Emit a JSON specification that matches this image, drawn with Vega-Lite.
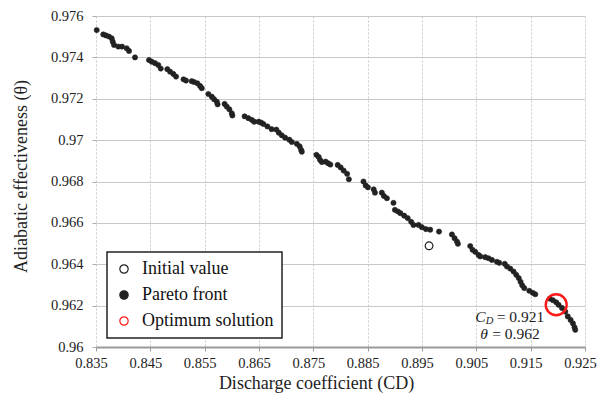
{
  "$schema": "https://vega.github.io/schema/vega-lite/v6.json",
  "width": 489,
  "height": 331,
  "autosize": {"type": "none"},
  "padding": {"left": 96, "top": 16, "right": 29, "bottom": 64},
  "background": "white",
  "config": {
    "view": {"stroke": null},
    "font": "Liberation Serif",
    "axis": {"labelFont": "Liberation Serif", "titleFont": "Liberation Serif"},
    "text": {"font": "Liberation Serif"},
    "legend": {
      "orient": "none",
      "legendX": 11,
      "legendY": 236,
      "strokeColor": "#222",
      "strokeWidth": 1.5,
      "fillColor": "white",
      "padding": 8,
      "labelFont": "Liberation Serif",
      "labelFontSize": 18,
      "labelColor": "#111",
      "labelOffset": 9,
      "rowPadding": 8,
      "symbolSize": 70,
      "symbolStrokeWidth": 1.2
    }
  },
  "datasets": {
    "pts": [
      {"cd": 0.83513, "th": 0.97532, "s": "Pareto front"},
      {"cd": 0.83634, "th": 0.97511, "s": "Pareto front"},
      {"cd": 0.83684, "th": 0.97506, "s": "Pareto front"},
      {"cd": 0.83739, "th": 0.97501, "s": "Pareto front"},
      {"cd": 0.83789, "th": 0.97492, "s": "Pareto front"},
      {"cd": 0.83808, "th": 0.97476, "s": "Pareto front"},
      {"cd": 0.83832, "th": 0.9746, "s": "Pareto front"},
      {"cd": 0.83911, "th": 0.97452, "s": "Pareto front"},
      {"cd": 0.83979, "th": 0.97452, "s": "Pareto front"},
      {"cd": 0.84065, "th": 0.97444, "s": "Pareto front"},
      {"cd": 0.84108, "th": 0.97431, "s": "Pareto front"},
      {"cd": 0.84218, "th": 0.974, "s": "Pareto front"},
      {"cd": 0.84476, "th": 0.97387, "s": "Pareto front"},
      {"cd": 0.84526, "th": 0.97379, "s": "Pareto front"},
      {"cd": 0.84587, "th": 0.97372, "s": "Pareto front"},
      {"cd": 0.84647, "th": 0.97363, "s": "Pareto front"},
      {"cd": 0.84692, "th": 0.97346, "s": "Pareto front"},
      {"cd": 0.84813, "th": 0.97343, "s": "Pareto front"},
      {"cd": 0.84863, "th": 0.97331, "s": "Pareto front"},
      {"cd": 0.84924, "th": 0.9732, "s": "Pareto front"},
      {"cd": 0.84973, "th": 0.97307, "s": "Pareto front"},
      {"cd": 0.85111, "th": 0.97294, "s": "Pareto front"},
      {"cd": 0.85157, "th": 0.97288, "s": "Pareto front"},
      {"cd": 0.85262, "th": 0.97285, "s": "Pareto front"},
      {"cd": 0.85305, "th": 0.97281, "s": "Pareto front"},
      {"cd": 0.85366, "th": 0.97275, "s": "Pareto front"},
      {"cd": 0.85415, "th": 0.97262, "s": "Pareto front"},
      {"cd": 0.85447, "th": 0.97251, "s": "Pareto front"},
      {"cd": 0.85568, "th": 0.97223, "s": "Pareto front"},
      {"cd": 0.85631, "th": 0.9721, "s": "Pareto front"},
      {"cd": 0.85673, "th": 0.97198, "s": "Pareto front"},
      {"cd": 0.85723, "th": 0.97186, "s": "Pareto front"},
      {"cd": 0.85738, "th": 0.97173, "s": "Pareto front"},
      {"cd": 0.85867, "th": 0.97175, "s": "Pareto front"},
      {"cd": 0.85907, "th": 0.97162, "s": "Pareto front"},
      {"cd": 0.85955, "th": 0.97149, "s": "Pareto front"},
      {"cd": 0.85999, "th": 0.9713, "s": "Pareto front"},
      {"cd": 0.8601, "th": 0.97119, "s": "Pareto front"},
      {"cd": 0.86235, "th": 0.97115, "s": "Pareto front"},
      {"cd": 0.86305, "th": 0.97106, "s": "Pareto front"},
      {"cd": 0.86367, "th": 0.97098, "s": "Pareto front"},
      {"cd": 0.8641, "th": 0.97089, "s": "Pareto front"},
      {"cd": 0.86493, "th": 0.97089, "s": "Pareto front"},
      {"cd": 0.86539, "th": 0.97085, "s": "Pareto front"},
      {"cd": 0.86581, "th": 0.97078, "s": "Pareto front"},
      {"cd": 0.86655, "th": 0.97066, "s": "Pareto front"},
      {"cd": 0.86732, "th": 0.97053, "s": "Pareto front"},
      {"cd": 0.8682, "th": 0.97051, "s": "Pareto front"},
      {"cd": 0.86865, "th": 0.97036, "s": "Pareto front"},
      {"cd": 0.8692, "th": 0.97023, "s": "Pareto front"},
      {"cd": 0.86981, "th": 0.97012, "s": "Pareto front"},
      {"cd": 0.87058, "th": 0.97002, "s": "Pareto front"},
      {"cd": 0.87104, "th": 0.96991, "s": "Pareto front"},
      {"cd": 0.87196, "th": 0.96982, "s": "Pareto front"},
      {"cd": 0.87248, "th": 0.9697, "s": "Pareto front"},
      {"cd": 0.87275, "th": 0.96953, "s": "Pareto front"},
      {"cd": 0.87288, "th": 0.96944, "s": "Pareto front"},
      {"cd": 0.87557, "th": 0.96929, "s": "Pareto front"},
      {"cd": 0.87598, "th": 0.96919, "s": "Pareto front"},
      {"cd": 0.87625, "th": 0.96904, "s": "Pareto front"},
      {"cd": 0.87657, "th": 0.96894, "s": "Pareto front"},
      {"cd": 0.87727, "th": 0.96896, "s": "Pareto front"},
      {"cd": 0.87773, "th": 0.96888, "s": "Pareto front"},
      {"cd": 0.87813, "th": 0.96882, "s": "Pareto front"},
      {"cd": 0.87948, "th": 0.9688, "s": "Pareto front"},
      {"cd": 0.88003, "th": 0.96868, "s": "Pareto front"},
      {"cd": 0.88058, "th": 0.96853, "s": "Pareto front"},
      {"cd": 0.88122, "th": 0.96837, "s": "Pareto front"},
      {"cd": 0.88154, "th": 0.96811, "s": "Pareto front"},
      {"cd": 0.88423, "th": 0.968, "s": "Pareto front"},
      {"cd": 0.88463, "th": 0.96781, "s": "Pareto front"},
      {"cd": 0.88504, "th": 0.96772, "s": "Pareto front"},
      {"cd": 0.88611, "th": 0.96762, "s": "Pareto front"},
      {"cd": 0.88634, "th": 0.96746, "s": "Pareto front"},
      {"cd": 0.88761, "th": 0.96746, "s": "Pareto front"},
      {"cd": 0.888, "th": 0.9673, "s": "Pareto front"},
      {"cd": 0.88854, "th": 0.96719, "s": "Pareto front"},
      {"cd": 0.88975, "th": 0.96697, "s": "Pareto front"},
      {"cd": 0.89001, "th": 0.96663, "s": "Pareto front"},
      {"cd": 0.89058, "th": 0.96655, "s": "Pareto front"},
      {"cd": 0.89102, "th": 0.96647, "s": "Pareto front"},
      {"cd": 0.89172, "th": 0.96635, "s": "Pareto front"},
      {"cd": 0.89237, "th": 0.96623, "s": "Pareto front"},
      {"cd": 0.89301, "th": 0.96605, "s": "Pareto front"},
      {"cd": 0.89343, "th": 0.9659, "s": "Pareto front"},
      {"cd": 0.89436, "th": 0.9659, "s": "Pareto front"},
      {"cd": 0.89498, "th": 0.96579, "s": "Pareto front"},
      {"cd": 0.89572, "th": 0.9657, "s": "Pareto front"},
      {"cd": 0.89651, "th": 0.96567, "s": "Pareto front"},
      {"cd": 0.89813, "th": 0.96558, "s": "Pareto front"},
      {"cd": 0.90051, "th": 0.96544, "s": "Pareto front"},
      {"cd": 0.90099, "th": 0.96526, "s": "Pareto front"},
      {"cd": 0.90143, "th": 0.9651, "s": "Pareto front"},
      {"cd": 0.90161, "th": 0.96499, "s": "Pareto front"},
      {"cd": 0.90388, "th": 0.96488, "s": "Pareto front"},
      {"cd": 0.9043, "th": 0.9647, "s": "Pareto front"},
      {"cd": 0.9048, "th": 0.9646, "s": "Pareto front"},
      {"cd": 0.90541, "th": 0.96445, "s": "Pareto front"},
      {"cd": 0.90572, "th": 0.96438, "s": "Pareto front"},
      {"cd": 0.90664, "th": 0.96434, "s": "Pareto front"},
      {"cd": 0.90725, "th": 0.96429, "s": "Pareto front"},
      {"cd": 0.90787, "th": 0.96421, "s": "Pareto front"},
      {"cd": 0.90879, "th": 0.96412, "s": "Pareto front"},
      {"cd": 0.90922, "th": 0.96407, "s": "Pareto front"},
      {"cd": 0.91023, "th": 0.96402, "s": "Pareto front"},
      {"cd": 0.91064, "th": 0.96389, "s": "Pareto front"},
      {"cd": 0.91124, "th": 0.96379, "s": "Pareto front"},
      {"cd": 0.91185, "th": 0.96365, "s": "Pareto front"},
      {"cd": 0.91235, "th": 0.96349, "s": "Pareto front"},
      {"cd": 0.91281, "th": 0.96333, "s": "Pareto front"},
      {"cd": 0.91314, "th": 0.96315, "s": "Pareto front"},
      {"cd": 0.91345, "th": 0.96298, "s": "Pareto front"},
      {"cd": 0.91382, "th": 0.96285, "s": "Pareto front"},
      {"cd": 0.91474, "th": 0.96272, "s": "Pareto front"},
      {"cd": 0.91539, "th": 0.96262, "s": "Pareto front"},
      {"cd": 0.91585, "th": 0.96255, "s": "Pareto front"},
      {"cd": 0.91852, "th": 0.96234, "s": "Pareto front"},
      {"cd": 0.91911, "th": 0.96226, "s": "Pareto front"},
      {"cd": 0.91971, "th": 0.96216, "s": "Pareto front"},
      {"cd": 0.92014, "th": 0.96204, "s": "Pareto front"},
      {"cd": 0.92076, "th": 0.96189, "s": "Pareto front"},
      {"cd": 0.92137, "th": 0.96171, "s": "Pareto front"},
      {"cd": 0.92183, "th": 0.96148, "s": "Pareto front"},
      {"cd": 0.92235, "th": 0.96131, "s": "Pareto front"},
      {"cd": 0.92279, "th": 0.96114, "s": "Pareto front"},
      {"cd": 0.92307, "th": 0.96095, "s": "Pareto front"},
      {"cd": 0.92321, "th": 0.96083, "s": "Pareto front"},
      {"cd": 0.8963, "th": 0.96489, "s": "Initial value"},
      {"cd": 0.9197, "th": 0.96204, "s": "Optimum solution"}
    ],
    "ann": [
      {"t": "C", "x": 0.9048, "y": 0.96146, "p": "it"},
      {"t": "D", "x": 0.90672, "y": 0.96124, "p": "sub"},
      {"t": "= 0.921", "x": 0.90875, "y": 0.96146, "p": "rm"},
      {"t": "θ", "x": 0.90572, "y": 0.96064, "p": "it"},
      {"t": "= 0.962", "x": 0.90793, "y": 0.96064, "p": "rm"}
    ]
  },
  "layer": [
    {
      "data": {"name": "pts"},
      "transform": [{"filter": "datum.s === 'Pareto front'"}],
      "mark": {"type": "point", "size": 27, "strokeWidth": 0.6, "opacity": 1},
      "encoding": {
        "x": {
          "field": "cd", "type": "quantitative",
          "scale": {"domain": [0.835, 0.925], "nice": false, "zero": false},
          "axis": {
            "title": "Discharge coefficient (CD)",
            "values": [0.835, 0.845, 0.855, 0.865, 0.875, 0.885, 0.895, 0.905, 0.915, 0.925],
            "format": ".3f",
            "grid": true, "gridColor": "#c8c8c8", "gridDash": [2, 2], "gridWidth": 1,
            "domainColor": "#9a9a9a", "domainWidth": 2,
            "tickColor": "#9a9a9a", "tickSize": 4,
            "labelFont": "Liberation Serif",
            "labelFontSize": 14.5, "labelColor": "#222", "labelPadding": 5, "labelOffset": -5,
            "labelFlush": false,
            "titleFont": "Liberation Serif",
            "titleFontSize": 18, "titleFontWeight": "normal", "titleColor": "#222",
            "titleX": 220, "titleY": 41, "titleBaseline": "alphabetic", "titleAnchor": "middle"
          }
        },
        "y": {
          "field": "th", "type": "quantitative",
          "scale": {"domain": [0.96, 0.976], "nice": false, "zero": false},
          "axis": {
            "title": "Adiabatic effectiveness (θ)",
            "values": [0.96, 0.962, 0.964, 0.966, 0.968, 0.97, 0.972, 0.974, 0.976],
            "format": "~g",
            "grid": true, "gridColor": "#c8c8c8", "gridWidth": 1,
            "domain": false,
            "tickColor": "#aaaaaa", "tickSize": 4,
            "labelFont": "Liberation Serif",
            "labelFontSize": 14.5, "labelColor": "#222", "labelPadding": 9,
            "labelFlush": false,
            "titleFont": "Liberation Serif",
            "titleFontSize": 18, "titleFontWeight": "normal", "titleColor": "#222",
            "titleX": -66, "titleY": 160, "titleAnchor": "middle"
          }
        },
        "stroke": {
          "field": "s", "type": "nominal",
          "scale": {"domain": ["Initial value", "Pareto front", "Optimum solution"], "range": ["#222222", "#222222", "#ff1a1a"]},
          "legend": {"title": null, "labelFont": "Liberation Serif", "encode": {"symbols": {"update": {"size": {"signal": "datum.label === 'Pareto front' ? 28 : 70"}}}}}
        },
        "fill": {
          "field": "s", "type": "nominal",
          "scale": {"domain": ["Initial value", "Pareto front", "Optimum solution"], "range": ["transparent", "#222222", "transparent"]},
          "legend": {"title": null, "labelFont": "Liberation Serif", "encode": {"symbols": {"update": {"size": {"signal": "datum.label === 'Pareto front' ? 28 : 70"}}}}}
        }
      }
    },
    {
      "data": {"name": "pts"},
      "transform": [{"filter": "datum.s === 'Initial value'"}],
      "mark": {"type": "point", "size": 60, "strokeWidth": 1.2, "opacity": 1},
      "encoding": {
        "x": {"field": "cd", "type": "quantitative"},
        "y": {"field": "th", "type": "quantitative"},
        "stroke": {"field": "s", "type": "nominal"},
        "fill": {"field": "s", "type": "nominal"}
      }
    },
    {
      "data": {"name": "pts"},
      "transform": [{"filter": "datum.s === 'Optimum solution'"}],
      "mark": {"type": "point", "size": 440, "strokeWidth": 2.4, "opacity": 1},
      "encoding": {
        "x": {"field": "cd", "type": "quantitative"},
        "y": {"field": "th", "type": "quantitative"},
        "stroke": {"field": "s", "type": "nominal"},
        "fill": {"field": "s", "type": "nominal"}
      }
    },
    {
      "data": {"name": "ann"},
      "transform": [{"filter": "datum.p === 'it'"}],
      "mark": {"type": "text", "align": "left", "baseline": "middle", "font": "Liberation Serif", "fontStyle": "italic", "fontSize": 15.5, "color": "#222"},
      "encoding": {
        "x": {"field": "x", "type": "quantitative"},
        "y": {"field": "y", "type": "quantitative"},
        "text": {"field": "t"}
      }
    },
    {
      "data": {"name": "ann"},
      "transform": [{"filter": "datum.p === 'sub'"}],
      "mark": {"type": "text", "align": "left", "baseline": "middle", "font": "Liberation Serif", "fontStyle": "italic", "fontSize": 10.5, "color": "#222"},
      "encoding": {
        "x": {"field": "x", "type": "quantitative"},
        "y": {"field": "y", "type": "quantitative"},
        "text": {"field": "t"}
      }
    },
    {
      "data": {"name": "ann"},
      "transform": [{"filter": "datum.p === 'rm'"}],
      "mark": {"type": "text", "align": "left", "baseline": "middle", "font": "Liberation Serif", "fontSize": 15.5, "color": "#222"},
      "encoding": {
        "x": {"field": "x", "type": "quantitative"},
        "y": {"field": "y", "type": "quantitative"},
        "text": {"field": "t"}
      }
    }
  ]
}
